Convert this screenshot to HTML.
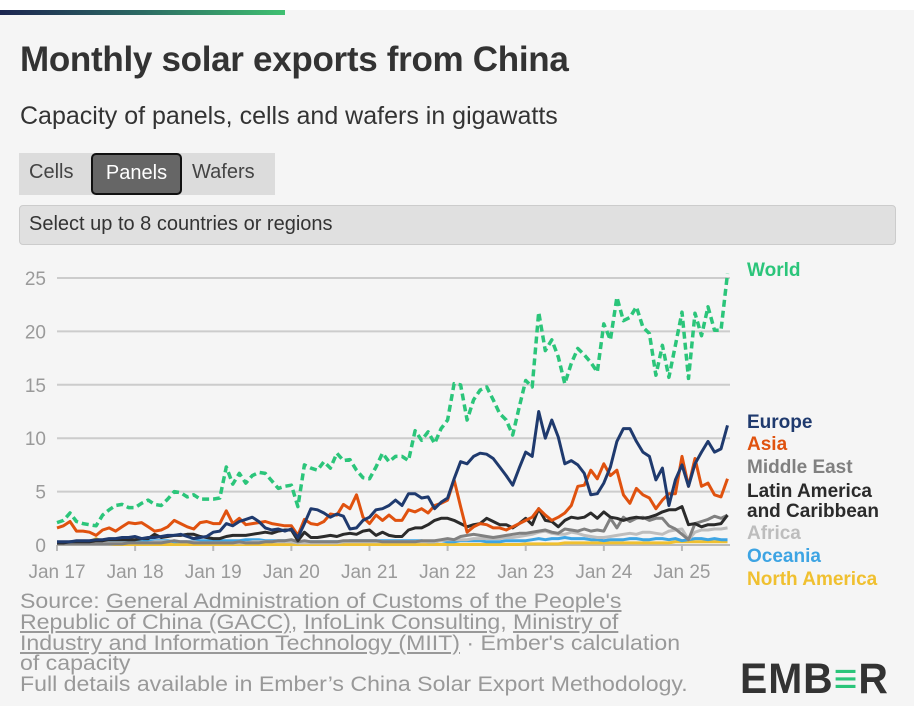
<!DOCTYPE html>
<html><head><meta charset="utf-8"><style>
body{margin:0;width:914px;height:706px;background:#f5f5f5;font-family:"Liberation Sans",sans-serif;overflow:hidden;position:relative}
.topwhite{position:absolute;left:0;top:0;width:914px;height:10px;background:#fff}
.bar{position:absolute;left:0;top:10px;width:285px;height:5px;background:linear-gradient(90deg,#1c2550,#2c6a63 50%,#3fc071)}
h1{position:absolute;left:20px;top:40px;margin:0;font-size:35px;font-weight:bold;color:#333;letter-spacing:-0.3px}
.sub{position:absolute;left:20px;top:102px;font-size:25px;color:#333}
.tabs{position:absolute;left:19px;top:153px;width:256px;height:42px;background:#dcdcdc}
.tab{position:absolute;top:0;height:42px;line-height:38px;font-size:20px;color:#444}
.tab.on{background:#666;color:#fff;border:2px solid #111;border-radius:5px;box-sizing:border-box;height:42px;line-height:36px;text-align:center}
.sel{position:absolute;left:19px;top:205px;background:#e0e0e0;border:1px solid #ccc;border-radius:4px;font-size:20px;color:#333;line-height:36px;padding-left:9px;box-sizing:border-box;width:877px;height:40px}
.foot{position:absolute;left:20px;top:592px;font-size:21px;color:#999;line-height:20.8px;white-space:nowrap;transform:scaleX(1.1);transform-origin:0 0}
.foot u{text-decoration:underline}
.logo{position:absolute;left:740px;top:655px;font-size:43px;font-weight:bold;color:#333;letter-spacing:1px;transform:scaleX(0.95);transform-origin:0 0}
</style></head><body>
<div class="topwhite"></div>
<div class="bar"></div>
<h1>Monthly solar exports from China</h1>
<div class="sub">Capacity of panels, cells and wafers in gigawatts</div>
<div class="tabs">
<div class="tab" style="left:10px">Cells</div>
<div class="tab on" style="left:72px;width:91px">Panels</div>
<div class="tab" style="left:173px">Wafers</div>
</div>
<div class="sel">Select up to 8 countries or regions</div>
<svg id="chart" width="914" height="706" style="position:absolute;left:0;top:0"></svg>
<div class="foot">Source: <u>General Administration of Customs of the People's<br>Republic of China (GACC)</u>, <u>InfoLink Consulting</u>, <u>Ministry of<br>Industry and Information Technology (MIIT)</u> · Ember's calculation<br>of capacity<br>Full details available in Ember’s China Solar Export Methodology.</div>
<div class="logo">EMB<span style="color:#2bc57a">≡</span>R</div>
<script>
const yTicks=[0,5,10,15,20,25];
const xTickLabels=["Jan 17","Jan 18","Jan 19","Jan 20","Jan 21","Jan 22","Jan 23","Jan 24","Jan 25"];
const world=[2.1,2.3,3.0,2.2,2.0,1.9,1.8,2.8,3.3,3.7,3.8,3.5, 3.5,3.9,4.2,3.8,3.7,4.3,5.0,4.9,4.5,4.7,4.3,4.3, 4.3,4.4,7.3,5.7,6.7,5.8,6.5,6.8,6.7,6.0,5.3,5.5, 5.6,3.6,7.5,7.2,7.0,7.8,7.2,8.6,7.9,8.0,7.0,6.3, 6.2,7.3,8.6,7.8,8.3,8.3,7.9,10.7,9.8,10.6,9.5,10.9, 11.7,15.1,15.0,11.7,13.6,14.5,14.8,13.6,12.3,11.7,10.3,12.9, 15.4,14.8,21.8,18.2,19.2,17.6,15.1,17.0,18.4,17.8,17.1,16.2, 20.7,19.2,23.2,21.0,21.3,22.3,20.4,19.8,15.9,18.7,15.7,18.7, 21.8,15.6,21.7,19.6,22.3,20.1,20.1,25.4];
const europe=[0.3,0.3,0.3,0.4,0.4,0.4,0.5,0.5,0.6,0.6,0.7,0.7, 0.8,0.6,0.7,0.7,0.8,0.9,0.9,1.0,0.8,0.6,0.7,0.8, 1.2,1.3,2.0,1.8,2.2,2.4,2.6,2.2,1.6,1.4,1.5,1.3, 1.5,0.7,2.0,3.4,3.3,3.0,2.6,2.9,2.7,1.5,1.6,2.3, 2.6,3.3,3.4,3.7,4.2,3.7,4.8,4.8,4.4,4.5,3.4,4.0, 4.4,6.2,7.8,7.6,8.3,8.6,8.5,8.1,7.3,6.5,5.6,7.2, 8.7,8.3,12.5,10.0,11.7,10.1,7.6,7.9,7.5,6.7,4.7,4.8, 5.8,7.3,9.7,10.9,10.9,9.7,8.7,8.3,6.1,7.2,3.7,6.1, 7.5,5.5,7.6,8.7,9.7,8.7,9.0,11.2];
const asia=[1.6,1.8,2.2,1.3,1.3,1.2,0.9,1.4,1.6,1.3,1.7,2.1, 2.0,2.1,1.7,1.3,1.4,1.7,2.3,2.0,1.7,1.5,2.1,2.2, 2.0,2.0,3.2,2.0,2.5,1.9,2.0,2.1,2.2,2.0,1.9,1.8, 1.8,0.9,2.4,2.0,1.9,2.2,2.9,2.8,3.8,3.4,4.7,2.6, 2.0,2.8,2.3,2.8,2.3,2.3,3.3,3.1,3.4,3.0,3.7,3.9, 4.2,6.1,3.6,1.2,1.7,2.0,1.9,1.6,1.6,1.4,1.7,2.0, 2.3,2.6,3.4,2.8,2.3,2.6,3.0,3.7,5.5,5.6,7.0,6.2, 7.6,6.5,7.0,4.7,3.9,5.3,4.7,4.4,3.4,4.2,4.8,4.8, 8.3,5.5,8.1,5.5,5.8,4.7,4.5,6.2];
const middleEast=[0.1,0.1,0.1,0.1,0.1,0.1,0.1,0.1,0.1,0.1,0.1,0.2, 0.2,0.2,0.2,0.2,0.2,0.3,0.4,0.3,0.3,0.2,0.2,0.2, 0.2,0.2,0.2,0.2,0.3,0.2,0.2,0.2,0.3,0.3,0.4,0.4, 0.5,0.3,0.4,0.3,0.3,0.3,0.3,0.3,0.4,0.4,0.4,0.4, 0.4,0.4,0.3,0.3,0.3,0.3,0.3,0.3,0.4,0.4,0.4,0.5, 0.6,0.5,0.8,0.9,1.0,0.9,0.8,0.7,0.8,0.9,1.0,1.1, 1.1,1.2,1.3,1.4,1.2,1.1,1.5,1.4,1.3,1.5,1.3,1.4, 1.3,2.5,1.6,2.6,2.2,2.5,2.6,2.3,2.5,2.5,1.8,1.5, 1.0,0.5,2.0,2.2,2.4,2.7,2.5,2.8];
const latinAmerica=[0.2,0.2,0.3,0.3,0.3,0.3,0.4,0.4,0.5,0.5,0.5,0.5, 0.5,0.6,0.6,1.0,0.7,0.8,0.9,0.9,1.0,1.0,0.8,0.7, 0.6,0.6,0.8,0.9,0.9,0.9,1.0,1.1,1.2,1.1,1.3,1.4, 1.4,0.4,1.2,0.7,0.7,0.8,0.9,0.8,1.0,1.1,1.0,1.3, 1.4,0.9,1.2,0.9,0.8,0.8,1.4,1.6,1.6,1.9,2.3,2.5, 2.5,2.3,2.0,1.7,1.9,2.0,2.5,2.2,1.9,1.9,1.6,2.0, 2.5,1.9,3.4,2.3,2.2,1.7,2.3,2.6,2.5,2.6,3.0,2.5, 3.1,2.6,2.5,2.3,2.5,2.6,2.5,2.6,2.8,3.1,3.3,3.3, 3.6,1.9,2.0,1.7,1.9,1.9,2.0,2.8];
const africa=[0.1,0.1,0.1,0.1,0.1,0.1,0.2,0.2,0.2,0.2,0.2,0.2, 0.2,0.2,0.2,0.3,0.3,0.3,0.4,0.3,0.3,0.3,0.2,0.2, 0.2,0.2,0.2,0.2,0.2,0.2,0.3,0.3,0.3,0.3,0.3,0.3, 0.3,0.2,0.2,0.2,0.2,0.2,0.2,0.2,0.3,0.3,0.3,0.3, 0.3,0.3,0.3,0.3,0.3,0.3,0.3,0.3,0.3,0.3,0.3,0.4, 0.5,0.5,0.5,0.5,0.6,0.6,0.6,0.6,0.6,0.7,0.7,0.8, 0.9,1.0,1.2,1.3,1.1,1.0,1.0,1.2,1.1,0.9,0.8,0.7, 0.7,0.8,0.9,1.0,1.1,1.0,1.2,1.2,1.1,1.0,1.3,1.4, 1.5,0.5,1.2,1.4,1.4,1.5,1.5,1.6];
const oceania=[0.2,0.2,0.2,0.2,0.2,0.3,0.3,0.3,0.3,0.3,0.3,0.3, 0.3,0.3,0.4,0.4,0.4,0.4,0.3,0.3,0.3,0.4,0.4,0.4, 0.4,0.4,0.4,0.4,0.4,0.5,0.5,0.5,0.4,0.4,0.4,0.4, 0.3,0.2,0.3,0.3,0.3,0.3,0.3,0.3,0.3,0.4,0.4,0.4, 0.4,0.4,0.4,0.4,0.4,0.4,0.4,0.4,0.4,0.3,0.3,0.4, 0.3,0.3,0.4,0.4,0.4,0.4,0.3,0.3,0.3,0.4,0.4,0.4, 0.4,0.5,0.6,0.5,0.6,0.6,0.7,0.6,0.6,0.6,0.5,0.5, 0.4,0.5,0.5,0.5,0.6,0.6,0.5,0.5,0.6,0.6,0.5,0.6, 0.4,0.5,0.6,0.6,0.5,0.6,0.5,0.5];
const northAmerica=[0.1,0.1,0.1,0.1,0.2,0.3,0.6,0.3,0.1,0.05,0.05,0.05, 0.05,0.05,0.05,0.05,0.05,0.05,0.05,0.05,0.05,0.05,0.05,0.05, 0.05,0.05,0.05,0.05,0.05,0.05,0.05,0.05,0.05,0.05,0.05,0.05, 0.05,0.05,0.05,0.05,0.05,0.05,0.05,0.05,0.05,0.05,0.05,0.05, 0.05,0.05,0.05,0.05,0.05,0.05,0.05,0.05,0.05,0.05,0.05,0.05, 0.05,0.05,0.05,0.05,0.05,0.05,0.05,0.05,0.05,0.05,0.05,0.05, 0.1,0.1,0.1,0.1,0.1,0.1,0.2,0.2,0.2,0.2,0.2,0.2, 0.2,0.2,0.2,0.2,0.2,0.2,0.2,0.2,0.2,0.2,0.2,0.3, 0.3,0.3,0.3,0.3,0.3,0.3,0.3,0.3];

const NS="http://www.w3.org/2000/svg";
const svg=document.getElementById('chart');
const X0=57, MX=6.51, Y0=545, YK=10.68;
function xs(i){return X0+i*MX;}
function ys(v){return Y0-v*YK;}
function mk(tag,attrs){const e=document.createElementNS(NS,tag);for(const k in attrs)e.setAttribute(k,attrs[k]);svg.appendChild(e);return e;}

yTicks.forEach(t=>{
  const g=mk('line',{x1:57,x2:730,y1:ys(t),y2:ys(t),stroke:'#cccccc','stroke-width':2});
  
  
  const tx=mk('text',{x:46,y:ys(t)+7,'text-anchor':'end','font-size':19,fill:'#9a9a9a','font-family':'Liberation Sans, sans-serif'});
  tx.textContent=t;
  
  
});
const ax=mk('line',{x1:57,x2:730,y1:Y0,y2:Y0,stroke:'#bbbbbb','stroke-width':2});


xTickLabels.forEach((l,k)=>{
  const x=xs(k*12);
  const tk=mk('line',{x1:x,x2:x,y1:Y0,y2:Y0+6,stroke:'#bbbbbb','stroke-width':2});
  
  
  const tx=mk('text',{x:x,y:578,'text-anchor':'middle','font-size':19,fill:'#9a9a9a','font-family':'Liberation Sans, sans-serif'});
  tx.textContent=l;
  
  
});
const series=[
 ['north-america',northAmerica,'#f0c030',false],
 ['oceania',oceania,'#3da4e3',false],
 ['africa',africa,'#bdbdbd',false],
 ['middle-east',middleEast,'#808080',false],
 ['latin-america',latinAmerica,'#2b2b2b',false],
 ['asia',asia,'#e0520f',false],
 ['europe',europe,'#1f3a6e',false],
 ['world',world,'#2bc57a',true]];
series.forEach(s=>{
  const d=s[1].map((v,i)=>(i?'L':'M')+xs(i).toFixed(1)+','+ys(v).toFixed(1)).join('');
  const p=mk('path',{d:d,fill:'none',stroke:s[2],'stroke-width':s[3]?3.5:3,'stroke-linejoin':'round'});
  if(s[3])p.setAttribute('stroke-dasharray','7 4');
  
  
});
const legend=[['World',276,'#2bc57a'],['Europe',428,'#1f3a6e'],['Asia',450,'#e0520f'],['Middle East',473,'#808080'],['Latin America',497,'#2b2b2b'],['and Caribbean',517,'#2b2b2b'],['Africa',539,'#bdbdbd'],['Oceania',562,'#3da4e3'],['North America',585,'#f0c030']];
legend.forEach(l=>{
  const t=mk('text',{x:747,y:l[1],'font-size':19,'font-weight':'bold',fill:l[2],'font-family':'Liberation Sans, sans-serif'});
  t.textContent=l[0];
  
  
});
</script>
</body></html>
